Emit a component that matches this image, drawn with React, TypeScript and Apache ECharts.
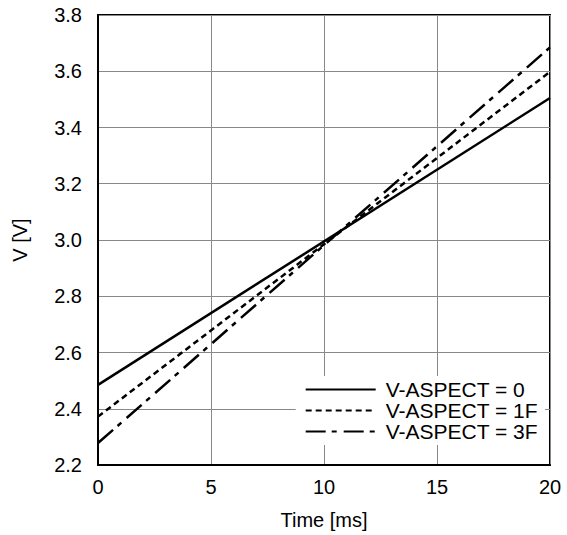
import React, { useEffect, useRef } from "react";
import * as echarts from "echarts";

const seriesNames = ["V-ASPECT = 0", "V-ASPECT = 1F", "V-ASPECT = 3F"];
const timeMs = [0, 20];
const vAspect0 = [2.485, 3.505];
const vAspect1F = [2.372, 3.598];
const vAspect3F = [2.278, 3.685];
const dashPatterns: (string | number[])[] = ["solid", [6, 4], [20, 6, 5, 7]];

export default function App() {
  const ref = useRef<HTMLDivElement>(null);
  useEffect(() => {
    if (!ref.current) return;
    const chart = echarts.init(ref.current, undefined, { renderer: "svg" });
    const values = [vAspect0, vAspect1F, vAspect3F];
    const font = "Liberation Sans, Arial, sans-serif";
    chart.setOption({
      animation: false,
      textStyle: { fontFamily: font },
      grid: {
        left: 98,
        right: 17,
        top: 15,
        bottom: 68,
        show: true,
        borderColor: "#000",
        borderWidth: 2,
      },
      legend: {
        orient: "vertical",
        right: 22,
        bottom: 90,
        backgroundColor: "#fff",
        padding: [3, 7, 3, 9],
        itemGap: 0,
        itemWidth: 70,
        itemHeight: 21,
        itemStyle: { opacity: 0 },
        textStyle: { fontSize: 21, color: "#000", fontFamily: font, padding: [0, 0, 0, 5] },
        data: seriesNames,
      },
      xAxis: {
        type: "value",
        min: 0,
        max: 20,
        interval: 5,
        name: "Time [ms]",
        nameLocation: "middle",
        nameGap: 45,
        nameTextStyle: { fontSize: 20, color: "#000" },
        axisLine: { show: true, lineStyle: { color: "#000", width: 2 } },
        axisTick: { show: false },
        axisLabel: { fontSize: 20, color: "#000", margin: 12 },
        splitLine: { show: true, lineStyle: { color: "#888", width: 1 } },
      },
      yAxis: {
        type: "value",
        min: 2.2,
        max: 3.8,
        interval: 0.2,
        name: "V [V]",
        nameLocation: "middle",
        nameGap: 68,
        nameTextStyle: { fontSize: 20, color: "#000" },
        axisLine: { show: true, lineStyle: { color: "#000", width: 2 } },
        axisTick: { show: false },
        axisLabel: {
          fontSize: 20,
          color: "#000",
          margin: 16,
          formatter: (v: number) => v.toFixed(1),
        },
        splitLine: { show: true, lineStyle: { color: "#888", width: 1 } },
      },
      series: values.map((vals, i) => ({
        name: seriesNames[i],
        type: "line",
        showSymbol: false,
        symbol: "none",
        data: timeMs.map((t, j) => [t, vals[j]]),
        lineStyle: { color: "#000", width: 2.5, type: dashPatterns[i] },
        itemStyle: { color: "#000" },
      })),
    });
    return () => chart.dispose();
  }, []);
  return <div ref={ref} style={{ width: 567, height: 535, position: "absolute", left: 0, top: 0 }} />;
}
